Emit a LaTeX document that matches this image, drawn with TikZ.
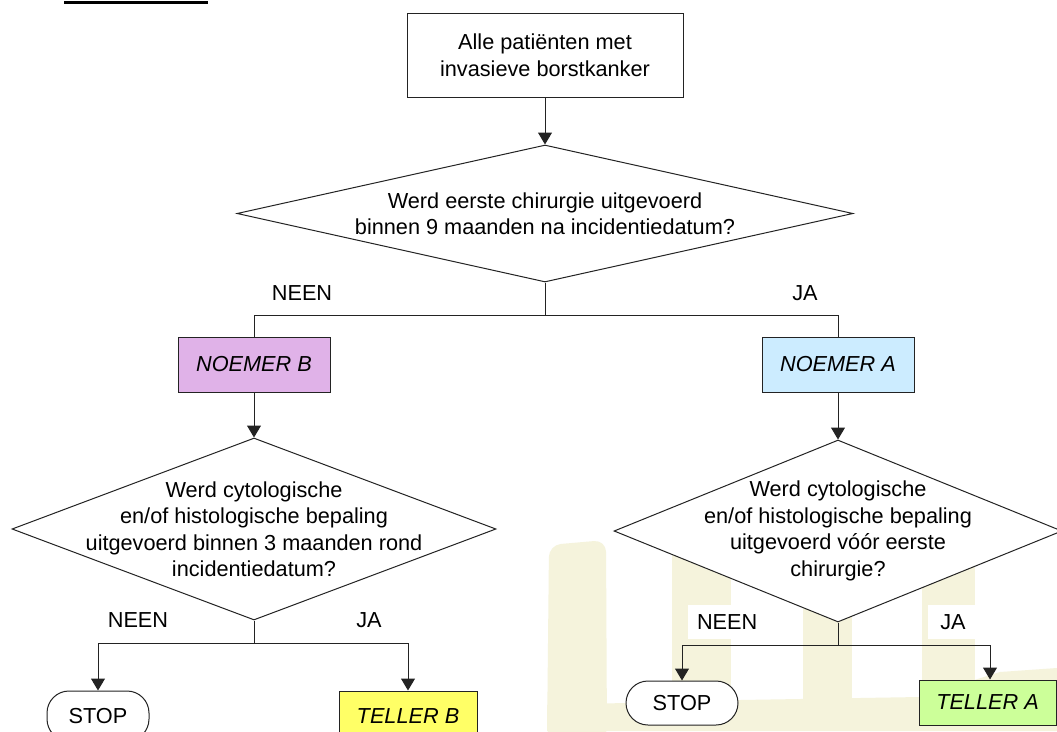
\documentclass[tikz,border=0pt]{standalone}
\usepackage{fontspec}
\setmainfont{Liberation Sans}
\usetikzlibrary{shapes.geometric,arrows.meta}
\definecolor{lilac}{RGB}{224,178,232}
\definecolor{skyfill}{RGB}{204,236,255}
\definecolor{lemon}{RGB}{255,255,102}
\definecolor{lime}{RGB}{204,255,153}
\definecolor{wmark}{RGB}{245,243,220}
\definecolor{edge}{RGB}{35,35,35}

\begin{document}
\begin{tikzpicture}[x=1pt,y=-1pt,
  every node/.style={font=\fontsize{21.7}{26.5}\selectfont, text=black},
  box/.style={draw=edge, line width=1pt, rectangle, inner sep=0pt, align=center},
  decision/.style={draw=edge, line width=1pt, diamond, fill=white, inner sep=0pt},
  qtext/.style={align=center, inner sep=0pt},
  terminal/.style={draw=edge, line width=1pt, rectangle, rounded corners=22pt, fill=white, inner sep=0pt},
  lbl/.style={fill=white, inner sep=0pt, minimum height=34pt},
  link/.style={draw=edge, line width=1pt},
  arr/.style={link, -{Triangle[length=12pt,width=14pt]}},
]
\useasboundingbox (0,0) rectangle (1057,731);
\clip (0,0) rectangle (1057,731);
\fill[white] (0,0) rectangle (1057,731);

% faint background lettering, lower right
\fill[wmark, rounded corners=12pt] (547,740) -- (549,545) -- (606,540) -- (607,740) -- cycle;
\fill[wmark] (672,520) rectangle (731,731);
\fill[wmark] (803,560) rectangle (852,731);
\fill[wmark] (922,540) rectangle (975,731);
\fill[wmark] (547,705) -- (740,700) -- (920,697) -- (1000,672) -- (1057,668) -- (1057,731) -- (547,731) -- cycle;

% rule in the top left corner
\fill[black] (64,1) rectangle (208,4);

% branch labels
\node[lbl, minimum width=70pt] (l1n) at (302,293) {NEEN};
\node[lbl, minimum width=40pt] (l1j) at (805,293) {JA};
\node[lbl, minimum width=70pt] (l2n) at (138,620) {NEEN};
\node[lbl, minimum width=40pt] (l2j) at (369,620) {JA};
\node[lbl, minimum width=99pt, inner xsep=9pt, text width=81pt, align=left] (l3n) at (737.5,622) {NEEN};
\node[lbl, minimum width=50pt] (l3j) at (953,622) {JA};

% nodes
\node[box, fill=white, minimum width=276pt, minimum height=84pt] (start) at (545,55)
  {Alle patiënten met\\invasieve borstkanker};

\node[decision, minimum width=616pt, minimum height=137pt] (q1) at (545,213.5) {};
\node[qtext] (q1t) at (q1.center) {Werd eerste chirurgie uitgevoerd\\binnen 9 maanden na incidentiedatum?};

\node[box, fill=lilac, minimum width=152pt, minimum height=55pt, font=\fontsize{21.7}{26.5}\selectfont\itshape] (nb) at (254,364.5) {NOEMER B};
\node[box, fill=skyfill, minimum width=152pt, minimum height=55pt, font=\fontsize{21.7}{26.5}\selectfont\itshape] (na) at (838,364.5) {NOEMER A};

\node[decision, minimum width=484pt, minimum height=182pt] (q2) at (254,529) {};
\node[qtext] (q2t) at (q2.center) {Werd cytologische\\en/of histologische bepaling\\uitgevoerd binnen 3 maanden rond\\incidentiedatum?};

\node[decision, minimum width=448pt, minimum height=182pt] (q3) at (838,531) {};
\node[qtext] (q3t) at (q3.center) {Werd cytologische\\en/of histologische bepaling\\uitgevoerd vóór eerste\\chirurgie?};

\node[terminal, minimum width=102pt, minimum height=50pt] (stopb) at (98,716) {STOP};
\node[box, fill=lemon, minimum width=138pt, minimum height=50pt, font=\fontsize{21.7}{26.5}\selectfont\itshape] (tb) at (408,716) {TELLER B};

\node[terminal, minimum width=112pt, minimum height=44pt] (stopa) at (682,703) {STOP};
\node[box, fill=lime, minimum width=137pt, minimum height=45pt, font=\fontsize{21.7}{26.5}\selectfont\itshape] (ta) at (987.5,702.5) {TELLER A};

% junctions of the branches
\coordinate (j1) at (545,315);
\coordinate (j2) at (254,643);
\coordinate (j3) at (838,645);

% connectors
\draw[arr] (start.south) -- (q1.north);
\draw[link] (q1.south) -- (j1);
\draw[link] (j1) -| (nb.north);
\draw[link] (j1) -| (na.north);
\draw[arr] (nb.south) -- (q2.north);
\draw[arr] (na.south) -- (q3.north);
\draw[link] (q2.south) -- (j2);
\draw[arr] (j2) -| (stopb.north);
\draw[arr] (j2) -| (tb.north);
\draw[link] (q3.south) -- (j3);
\draw[arr] (j3) -| (stopa.north);
\draw[arr] (j3) -| ([xshift=2.5pt]ta.north);
\end{tikzpicture}
\end{document}
